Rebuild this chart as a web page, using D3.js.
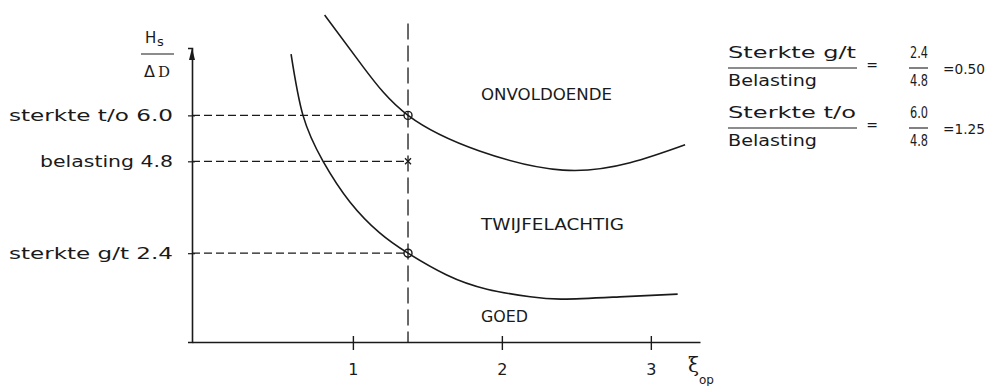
<!DOCTYPE html>
<html>
<head>
<meta charset="utf-8">
<script src="https://cdn.jsdelivr.net/npm/d3@7"></script>
<style>
  body { margin: 0; background: #fff; }
  svg { display: block; }
  text { font-family: "DejaVu Sans", sans-serif; fill: #1a1a1a; }
</style>
</head>
<body>
<svg id="chart" width="993" height="386"></svg>
<script>
// ---- data -------------------------------------------------------------
// boundary between "onvoldoende" and "twijfelachtig" (sterkte t/o)
const upperCurve = [
  [0.81, 8.62], [1.07, 7.26], [1.37, 6.00], [1.85, 5.07],
  [2.41, 4.57], [2.86, 4.76], [3.23, 5.23]
];
// boundary between "twijfelachtig" and "goed" (sterkte g/t)
const lowerCurve = [
  [0.585, 7.60], [0.665, 6.00], [0.80, 4.80], [0.98, 3.74], [1.18, 2.93],
  [1.37, 2.40], [1.63, 1.83], [1.90, 1.46], [2.19, 1.26], [2.41, 1.20],
  [2.79, 1.26], [3.18, 1.33]
];
const xTicks = [1, 2, 3];
const xiOp = 1.37;                       // surf similarity parameter of the case
const levelNames = ["sterkte t/o", "belasting", "sterkte g/t"];
const levelValues = [6.0, 4.8, 2.4];
const levelMarks = ["circle", "cross", "circle"];
const regionNames = ["ONVOLDOENDE", "TWIJFELACHTIG", "GOED"];
const ratioNames = ["Sterkte g/t", "Sterkte t/o"];
const loadName = "Belasting";

// ---- scales -----------------------------------------------------------
const svg = d3.select("#chart");
const x = d3.scaleLinear().domain([-0.08, 3.33]).range([192, 700]);
const y = d3.scaleLinear().domain([0.08, 7.76]).range([342, 48]);
const ink = "#1a1a1a";
const fmt1 = d3.format(".1f"), fmt2 = d3.format(".2f");

// ---- axes -------------------------------------------------------------
const xAxis = svg.append("g")
  .attr("transform", `translate(0,${y(0.08)})`)
  .call(d3.axisBottom(x).tickValues(xTicks).tickFormat(d3.format("d")).tickSizeOuter(0));
xAxis.select(".domain").attr("stroke", ink).attr("stroke-width", 1.6);
xAxis.selectAll(".tick line").attr("stroke", ink).attr("stroke-width", 1.4)
  .attr("y1", -6).attr("y2", 8);
xAxis.selectAll(".tick text").attr("y", 33).attr("dy", 0)
  .style("font-size", "16px").attr("fill", ink);

const loadValue = levelValues[levelNames.indexOf("belasting")];
const yAxis = svg.append("g")
  .attr("transform", `translate(${x(-0.08)},0)`)
  .call(d3.axisLeft(y).tickValues(levelValues).tickSizeOuter(0).tickSize(4).tickPadding(15)
    .tickFormat((d, i) => `${levelNames[i]} ${fmt1(d)}`));
yAxis.select(".domain").attr("stroke", ink).attr("stroke-width", 1.6);
yAxis.selectAll(".tick line").attr("stroke", ink).attr("stroke-width", 1.2).attr("x1", 3);
yAxis.selectAll(".tick text")
  .style("font-size", "15px").attr("fill", ink).attr("dy", "0.35em")
  .attr("lengthAdjust", "spacingAndGlyphs")
  .attr("textLength", d => d === loadValue ? 133 : 164);

// arrow head on the vertical axis
const ax = x(-0.08), ay = y(7.76);
svg.append("path")
  .attr("d", `M${ax},${ay} L${ax - 3},${ay + 12} L${ax + 3},${ay + 12} Z`)
  .attr("fill", ink);

// vertical axis title: Hs / ΔD
const yt = svg.append("g").attr("transform", `translate(${ax - 47},0)`);
yt.append("text").attr("x", 0).attr("y", 43).style("font-size", "15px").text("H");
yt.append("text").attr("x", 12).attr("y", 46).style("font-size", "13px").text("s");
yt.append("line").attr("x1", -4).attr("x2", 29).attr("y1", 54).attr("y2", 54)
  .attr("stroke", ink).attr("stroke-width", 1.1);
yt.append("text").attr("x", -1).attr("y", 77).style("font-size", "16px").text("Δ");
yt.append("text").attr("x", 13).attr("y", 77)
  .style("font-size", "15px").style("font-family", "DejaVu Serif, serif").text("D");

// horizontal axis title: ξ op
const xt = svg.append("g").attr("transform", `translate(${x(3.33) - 12},0)`);
xt.append("text").attr("x", 0).attr("y", 372)
  .style("font-size", "20px").style("font-family", "DejaVu Serif, serif").text("ξ");
xt.append("text").attr("x", 11).attr("y", 384).style("font-size", "12px").text("op");

// ---- reading lines ----------------------------------------------------
svg.append("line")
  .attr("x1", x(xiOp)).attr("x2", x(xiOp))
  .attr("y1", y(8.40)).attr("y2", y(0.08))
  .attr("stroke", ink).attr("stroke-width", 1.3).attr("stroke-dasharray", "16,6");

svg.selectAll(".hdash").data(levelValues).join("line")
  .attr("class", "hdash")
  .attr("x1", x(-0.08)).attr("x2", x(xiOp))
  .attr("y1", d => y(d)).attr("y2", d => y(d))
  .attr("stroke", ink).attr("stroke-width", 1.3).attr("stroke-dasharray", "8,4");

// ---- boundary curves --------------------------------------------------
const line = d3.line()
  .x(d => x(d[0])).y(d => y(d[1]))
  .curve(d3.curveNatural);
svg.selectAll(".curve").data([upperCurve, lowerCurve]).join("path")
  .attr("class", "curve")
  .attr("d", line)
  .attr("fill", "none").attr("stroke", ink).attr("stroke-width", 1.6);

// ---- markers at ξop ---------------------------------------------------
levelValues.forEach((v, i) => {
  const cx = x(xiOp), cy = y(v);
  if (levelMarks[i] === "circle") {
    svg.append("circle").attr("cx", cx).attr("cy", cy).attr("r", 4)
      .attr("fill", "none").attr("stroke", ink).attr("stroke-width", 1.4);
  } else {
    svg.append("path")
      .attr("d", `M${cx - 3},${cy - 3}L${cx + 3},${cy + 3}M${cx - 3},${cy + 3}L${cx + 3},${cy - 3}`)
      .attr("stroke", ink).attr("stroke-width", 1.3);
  }
});

// ---- region names -----------------------------------------------------
const regionAnchors = [[1.86, 6.40], [1.86, 3.00], [1.86, 0.60]];
const regionWidths = [131, 143, 47];
svg.selectAll(".region").data(regionNames).join("text")
  .attr("class", "region")
  .attr("x", (d, i) => x(regionAnchors[i][0]))
  .attr("y", (d, i) => y(regionAnchors[i][1]))
  .style("font-size", "16px")
  .attr("lengthAdjust", "spacingAndGlyphs")
  .attr("textLength", (d, i) => regionWidths[i])
  .text(d => d);

// ---- ratio block ------------------------------------------------------
const strengthValues = [levelValues[2], levelValues[0]];
const rows = svg.selectAll(".ratio").data(ratioNames).join("g")
  .attr("class", "ratio")
  .attr("transform", (d, i) => `translate(728,${68 + i * 60})`);
rows.append("text").attr("x", 0).attr("y", -10).style("font-size", "16px")
  .attr("lengthAdjust", "spacingAndGlyphs").attr("textLength", 128).text(d => d);
rows.append("line").attr("x1", 0).attr("x2", 129).attr("y1", 0).attr("y2", 0)
  .attr("stroke", ink).attr("stroke-width", 1.1);
rows.append("text").attr("x", 0).attr("y", 18).style("font-size", "16px")
  .attr("lengthAdjust", "spacingAndGlyphs").attr("textLength", 89).text(loadName);
rows.append("text").attr("x", 144).attr("y", 2).attr("text-anchor", "middle")
  .style("font-size", "14px").text("=");
rows.append("text").attr("x", 182).attr("y", -10).style("font-size", "15px")
  .attr("lengthAdjust", "spacingAndGlyphs").attr("textLength", 18)
  .text((d, i) => fmt1(strengthValues[i]));
rows.append("line").attr("x1", 181).attr("x2", 200).attr("y1", 0).attr("y2", 0)
  .attr("stroke", ink).attr("stroke-width", 1.1);
rows.append("text").attr("x", 182).attr("y", 18).style("font-size", "15px")
  .attr("lengthAdjust", "spacingAndGlyphs").attr("textLength", 18)
  .text(fmt1(loadValue));
rows.append("text").attr("x", 215).attr("y", 6).style("font-size", "14px")
  .attr("lengthAdjust", "spacingAndGlyphs").attr("textLength", 42)
  .text((d, i) => "=" + fmt2(strengthValues[i] / loadValue));
</script>
</body>
</html>
